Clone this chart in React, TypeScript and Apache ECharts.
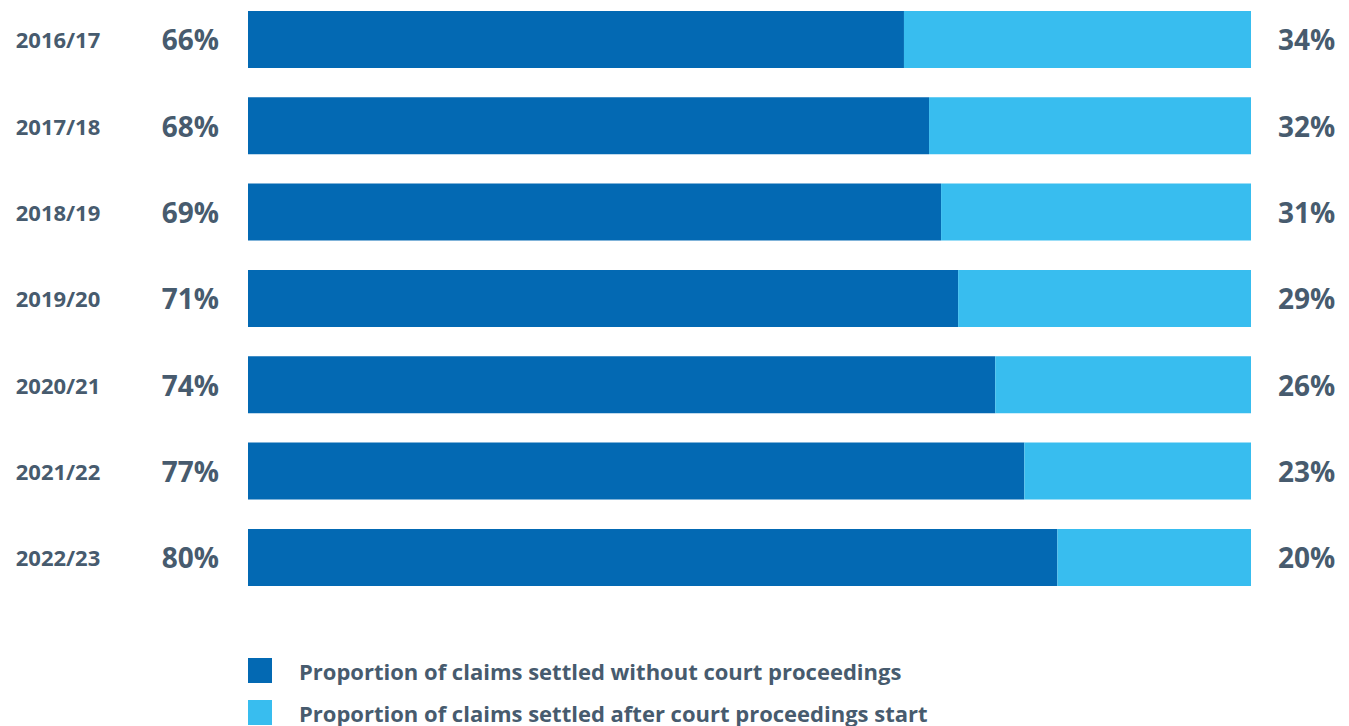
import React, { useEffect, useRef } from "react";
import * as echarts from "echarts";

const years = ["2016/17", "2017/18", "2018/19", "2019/20", "2020/21", "2021/22", "2022/23"];
const withoutCourt = [65.4, 67.9, 69.1, 70.8, 74.5, 77.4, 80.7];
const afterCourt = [34.6, 32.1, 30.9, 29.2, 25.5, 22.6, 19.3];
const withoutLabels = ["66%", "68%", "69%", "71%", "74%", "77%", "80%"];
const afterLabels = ["34%", "32%", "31%", "29%", "26%", "23%", "20%"];
const seriesNames = [
  "Proportion of claims settled without court proceedings",
  "Proportion of claims settled after court proceedings start",
];

const TEXT = "#475b6e";
const FONT = "'Open Sans', 'Noto Sans', sans-serif";
const SHIFT = 10;

export default function App() {
  const ref = useRef<HTMLDivElement>(null);
  useEffect(() => {
    if (!ref.current) return;
    const chart = echarts.init(ref.current, undefined, { renderer: "svg" });
    const legendText = {
      color: TEXT,
      fontSize: 22,
      fontWeight: "bold",
      fontFamily: FONT,
      padding: [0, 0, 0, 22],
    };
    chart.setOption({
      animation: false,
      textStyle: { fontFamily: FONT },
      grid: { left: 248, right: 98, top: SHIFT - 3.7, height: 604.3, containLabel: false },
      xAxis: {
        type: "value",
        min: 0,
        max: 100,
        show: false,
      },
      yAxis: {
        type: "category",
        data: years,
        inverse: true,
        axisLine: { show: false },
        axisTick: { show: false },
        splitLine: { show: false },
        axisLabel: {
          align: "center",
          margin: 190,
          color: TEXT,
          fontWeight: "bold",
          fontSize: 22,
          fontFamily: FONT,
        },
      },
      legend: [
        {
          orient: "vertical",
          left: 248,
          top: SHIFT + 658,
          padding: 0,
          itemWidth: 24,
          itemHeight: 25,
          icon: "rect",
          textStyle: legendText,
          data: [seriesNames[0]],
          selectedMode: false,
        },
        {
          orient: "vertical",
          left: 248,
          top: SHIFT + 700,
          padding: 0,
          itemWidth: 24,
          itemHeight: 25,
          icon: "rect",
          textStyle: legendText,
          data: [seriesNames[1]],
          selectedMode: false,
        },
      ],
      series: [
        {
          name: seriesNames[0],
          type: "bar",
          stack: "total",
          barWidth: 57,
          data: withoutCourt,
          itemStyle: { color: "#0369b3" },
          label: {
            show: true,
            position: "left",
            distance: 29,
            color: TEXT,
            fontSize: 28,
            fontWeight: "bold",
            fontFamily: FONT,
            formatter: (p: any) => withoutLabels[p.dataIndex],
          },
        },
        {
          name: seriesNames[1],
          type: "bar",
          stack: "total",
          barWidth: 57,
          data: afterCourt,
          itemStyle: { color: "#38bdef" },
          label: {
            show: true,
            position: "right",
            distance: 27,
            color: TEXT,
            fontSize: 28,
            fontWeight: "bold",
            fontFamily: FONT,
            formatter: (p: any) => afterLabels[p.dataIndex],
          },
        },
      ],
    });
    return () => chart.dispose();
  }, []);
  return (
    <div
      ref={ref}
      style={{ position: "fixed", left: 0, top: -SHIFT, width: 1349, height: 726 + SHIFT, background: "#fff" }}
    />
  );
}
